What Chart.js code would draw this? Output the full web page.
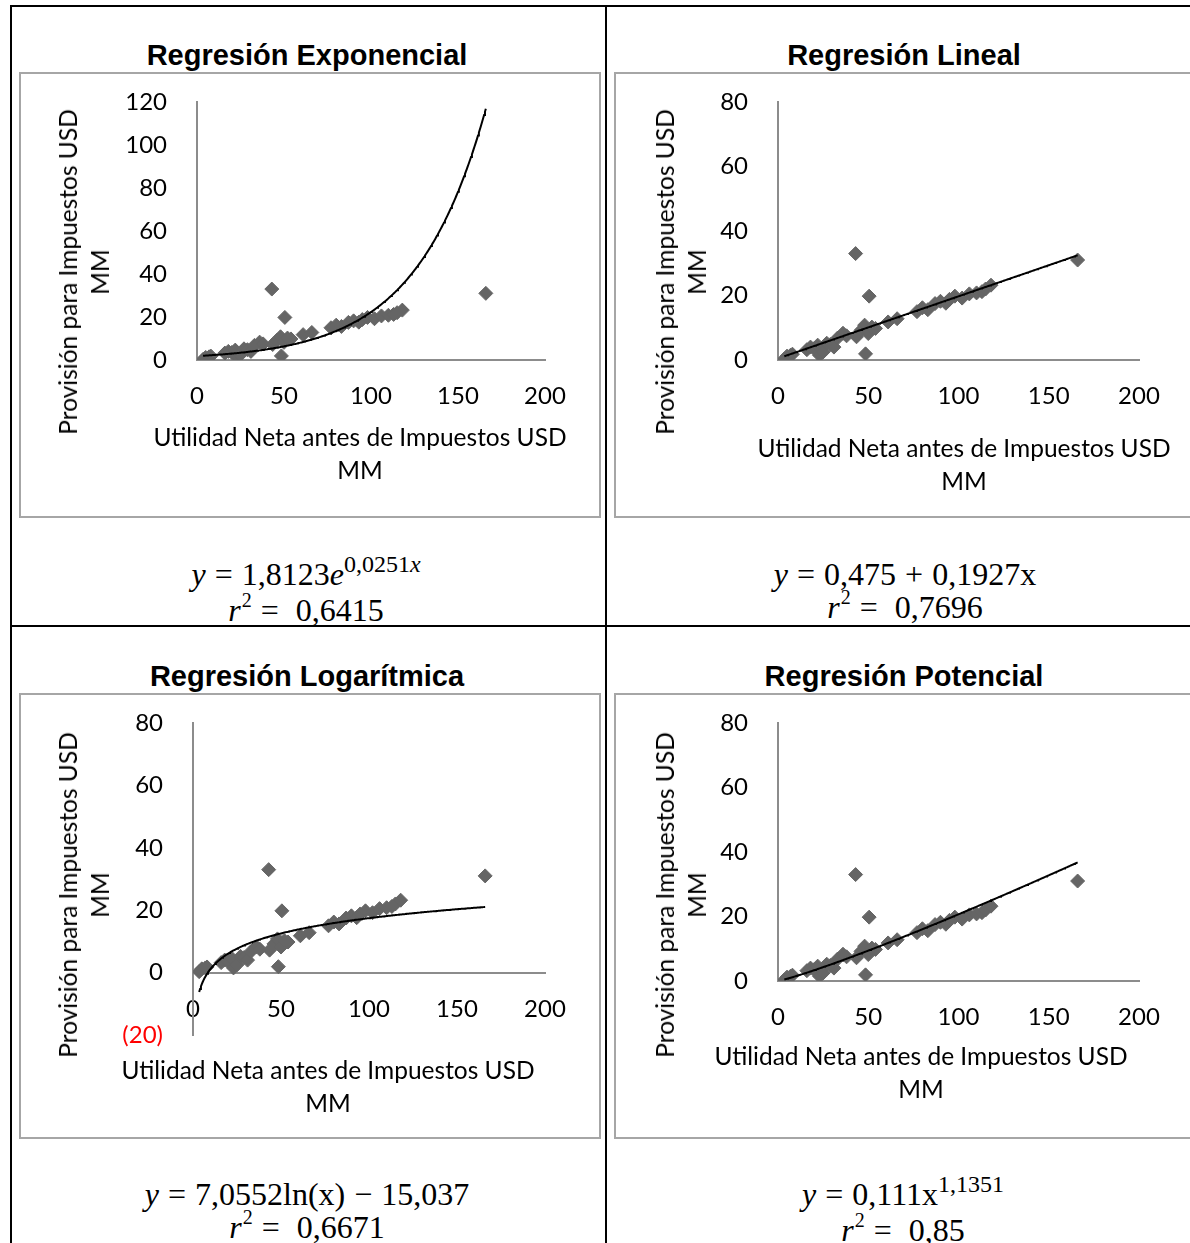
<!DOCTYPE html>
<html>
<head>
<meta charset="utf-8">
<script src="https://cdn.jsdelivr.net/npm/chart.js"></script>
<style>
body{margin:0;width:1190px;height:1243px;overflow:hidden;background:#fff;position:relative;font-family:Lato,sans-serif;color:#000;}
.ln{position:absolute;background:#000;}
.frame{position:absolute;border:2px solid #a6a6a6;box-sizing:border-box;}
canvas{position:absolute;}
.ttl{position:absolute;font:bold 29px "Liberation Sans",Arial,sans-serif;transform:translate(-50%,-50%);white-space:nowrap;}
.xt,.yt{position:absolute;font-size:24.5px;line-height:33px;text-align:center;white-space:nowrap;}
.xt{transform:translate(-50%,0);}
.yt{transform:translate(-50%,-50%) rotate(-90deg);line-height:32px;}
.eq{position:absolute;font:32px "Liberation Serif","Times New Roman",serif;line-height:33px;text-align:center;transform:translate(-50%,0);white-space:nowrap;}
.eq sup{font-size:24px;vertical-align:0;position:relative;top:-13px;}
.eq sup.s2{font-size:20px;top:-14px;margin-left:1px;}
.eq .o{margin:0 9px;}
</style>
</head>
<body>
<!-- tabla -->
<div class="ln" style="left:10px;top:5px;width:2px;height:1240px"></div>
<div class="ln" style="left:10px;top:5px;width:1180px;height:2px"></div>
<div class="ln" style="left:605px;top:5px;width:2px;height:1240px"></div>
<div class="ln" style="left:10px;top:625px;width:1180px;height:2px"></div>

<div class="frame" style="left:19px;top:72px;width:582px;height:446px"></div>
<div class="frame" style="left:614px;top:72px;width:590px;height:446px"></div>
<div class="frame" style="left:19px;top:693px;width:582px;height:446px"></div>
<div class="frame" style="left:614px;top:693px;width:590px;height:446px"></div>

<div class="ttl" style="left:307px;top:55px">Regresión Exponencial</div>
<div class="ttl" style="left:904px;top:55px">Regresión Lineal</div>
<div class="ttl" style="left:307px;top:676px">Regresión Logarítmica</div>
<div class="ttl" style="left:904px;top:676px">Regresión Potencial</div>

<canvas id="g0" width="581" height="445" style="left:19px;top:72px"></canvas>
<canvas id="g1" width="576" height="445" style="left:614px;top:72px"></canvas>
<canvas id="g2" width="581" height="445" style="left:19px;top:693px"></canvas>
<canvas id="g3" width="576" height="445" style="left:614px;top:693px"></canvas>

<div class="yt" style="left:84px;top:272px">Provisión para Impuestos USD<br>MM</div>
<div class="yt" style="left:681px;top:272px">Provisión para Impuestos USD<br>MM</div>
<div class="yt" style="left:84px;top:895px">Provisión para Impuestos USD<br>MM</div>
<div class="yt" style="left:681px;top:895px">Provisión para Impuestos USD<br>MM</div>

<div class="xt" style="left:360px;top:420px">Utilidad Neta antes de Impuestos USD<br>MM</div>
<div class="xt" style="left:964px;top:431px">Utilidad Neta antes de Impuestos USD<br>MM</div>
<div class="xt" style="left:328px;top:1053px">Utilidad Neta antes de Impuestos USD<br>MM</div>
<div class="xt" style="left:921px;top:1039px">Utilidad Neta antes de Impuestos USD<br>MM</div>

<div class="eq" style="left:306px;top:558px"><i>y</i><span class="o">=</span>1,8123<i>e</i><sup>0,0251<i>x</i></sup><br><i>r</i><sup class="s2">2</sup><span class="o">=</span>&nbsp;0,6415</div>
<div class="eq" style="left:905px;top:558px"><i>y</i><span class="o">=</span>0,475<span class="o">+</span>0,1927x<br><i>r</i><sup class="s2">2</sup><span class="o">=</span>&nbsp;0,7696</div>
<div class="eq" style="left:307px;top:1178px"><i>y</i><span class="o">=</span>7,0552ln(x)<span class="o">−</span>15,037<br><i>r</i><sup class="s2">2</sup><span class="o">=</span>&nbsp;0,6671</div>
<div class="eq" style="left:903px;top:1178px"><i>y</i><span class="o">=</span>0,111x<sup>1,1351</sup><br><i>r</i><sup class="s2">2</sup><span class="o">=</span>&nbsp;0,85</div>

<script>
// datos (USD MM)
var utilidad=[3.5,5,7,8,16,18,20,22,23,25,27,29,31,33,36,38,43,43.5,46,48,48.5,50,50.5,52,54,61,66,77,80,83,87,90,93,95,98,102,106,110,113,115,118,166];
var provision=[0.3,1.2,1.5,1.8,3.2,4.0,3.5,4.6,1.5,2.5,5.2,4.8,4.0,6.8,8.3,7.5,33,7.2,9.2,10.8,1.9,8.2,19.8,10.2,9.8,11.8,12.8,15,16.2,15.6,17.5,18.2,17.6,18.8,19.8,19.2,20.5,20.8,21.2,22,23.2,31];

// coeficientes de cada regresion (exp, lineal, log, potencial)
var tipos=["exp","lin","log","pot"];
var coefA=[1.8123,0.475,-15.037,0.111];
var coefB=[0.0251,0.1927,7.0552,1.1351];

// ejes
var xTicks=[0,50,100,150,200];
var yMin=[0,0,-20,0];
var yMax=[120,80,80,80];
var yStep=20;

// padding de cada canvas para que el area caiga en su sitio
var pads=[
  {l:178,t:30,r:55,b:97},
  {l:164,t:30,r:51,b:97},
  {l:174,t:30,r:55,b:103},
  {l:164,t:30,r:51,b:97}
];

function tendencia(i,x){
  var a=coefA[i], b=coefB[i];
  if(tipos[i]=="exp") return a*Math.exp(b*x);
  if(tipos[i]=="lin") return a+b*x;
  if(tipos[i]=="log") return b*Math.log(x)+a;
  return a*Math.pow(x,b);
}

var puntos=[];
for(var k=0;k<utilidad.length;k++){
  puntos.push({x:utilidad[k],y:provision[k]});
}
var xmin=Math.min.apply(null,utilidad), xmax=Math.max.apply(null,utilidad);

var fuente={family:'Lato',size:24};
var XH=60;

for(let i=0;i<4;i++){
  let linea=[];
  for(let x=xmin;x<xmax;x+=0.5){ linea.push({x:x,y:tendencia(i,x)}); }
  linea.push({x:xmax,y:tendencia(i,xmax)});

  let cv=document.getElementById("g"+i);
  let p=pads[i];
  new Chart(cv,{
    type:"scatter",
    data:{
      datasets:[
        {data:linea,showLine:true,borderColor:"#000",borderWidth:2,pointRadius:0,fill:false},
        {data:puntos,pointStyle:"rectRot",pointRadius:7,backgroundColor:"#656565",borderColor:"#656565",borderWidth:1}
      ]
    },
    options:{
      responsive:false,
      animation:false,
      layout:{padding:{left:0,top:p.t,right:p.r,bottom:p.b}},
      plugins:{legend:{display:false},tooltip:{enabled:false}},
      scales:{
        x:{
          type:"linear",min:0,max:200,
          position: i==2 ? {y:0} : "bottom",
          grid:{display:false,drawTicks:false},
          border:{display:true,color:"#8c8c8c",width:2},
          afterBuildTicks:function(s){ s.ticks=xTicks.map(v=>({value:v})); },
          ticks:{padding:22,color:"#000",font:fuente,maxRotation:0},
          afterFit:function(s){ s.height= i==2 ? 0 : XH; }
        },
        y:{
          min:yMin[i],max:yMax[i],
          grid:{display:false,drawTicks:false},
          border:{display:true,color:"#8c8c8c",width:2},
          ticks:{
            stepSize:yStep,padding:30,font:fuente,
            color:function(c){ return c.tick && c.tick.value<0 ? "#ff0000" : "#000"; },
            callback:function(v){ return v<0 ? "("+(-v)+")" : v; }
          },
          // el padding de los ticks no debe empujar el area hacia abajo
          afterFit:function(s){ s.width=p.l; s.paddingTop=0; s.paddingBottom=0; }
        }
      }
    }
  });
}
</script>
</body>
</html>
